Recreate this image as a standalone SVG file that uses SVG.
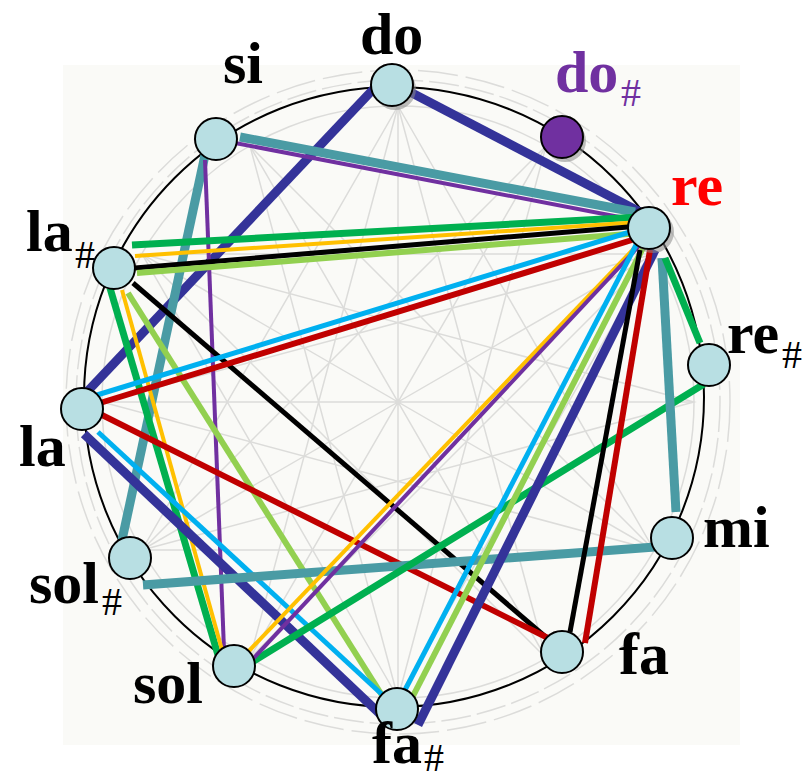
<svg xmlns="http://www.w3.org/2000/svg" width="804" height="781" viewBox="0 0 804 781">
<style>
.bgl{fill:none;stroke:#dcdcda;stroke-width:1.5}
.ring{fill:none;stroke:#000;stroke-width:2}
.c line{stroke-linecap:butt}
.db{stroke:#343399;stroke-width:9}
.te{stroke:#4a9ba4;stroke-width:9}
.gr{stroke:#00b050;stroke-width:7}
.pu{stroke:#7030a0;stroke-width:4}
.ye{stroke:#ffc000;stroke-width:4}
.bk{stroke:#000;stroke-width:5}
.lg{stroke:#92d050;stroke-width:6}
.lb{stroke:#00b0f0;stroke-width:5}
.rd{stroke:#c00000;stroke-width:6}
.sh{fill:#8a8a8a;opacity:.55}
.nd{fill:#b8dfe3;stroke:#000;stroke-width:2}
.lbl{font-family:"Liberation Serif","Times New Roman",serif;font-weight:bold;font-size:60px;fill:#000}
.sub{font-size:40px;font-weight:normal}
</style>
<rect width="804" height="781" fill="#fff"/>
<g id="background">
<rect x="63" y="65" width="677" height="680" fill="#fafaf7"/>
<circle class="bgl" cx="398" cy="402" r="322" stroke-dasharray="30 6"/>
<circle class="bgl" cx="398" cy="402" r="332" stroke-dasharray="40 8"/>
<circle class="bgl" cx="398" cy="402" r="296"/>
<path class="bgl" d="M398,106 L546,658 L142,254 L694,402 L142,550 L546,146 L398,698 L250,146 L654,550 L102,402 L654,254 L250,658 Z"/>
<path class="bgl" d="M398,106 L654,550 L142,550 Z M398,698 L142,254 L654,254 Z"/>
<path class="bgl" d="M398,106 L398,698 M102,402 L694,402 M250,146 L546,658 M546,146 L250,658 M142,254 L654,550 M142,550 L654,254"/>
</g>
<circle class="ring" cx="394" cy="397" r="310"/>
<g id="connectors" class="c">
<line class="db" x1="412" y1="93" x2="640" y2="212"/>
<line class="db" x1="382" y1="80" x2="84" y2="395"/>
<line class="te" x1="240" y1="137" x2="635" y2="212"/>
<line class="pu" x1="235" y1="143" x2="635" y2="220"/>
<line class="te" x1="205" y1="155" x2="122" y2="540"/>
<line class="pu" x1="205" y1="160" x2="224" y2="650"/>
<line class="gr" x1="132" y1="245" x2="640" y2="217"/>
<line class="ye" x1="135" y1="256" x2="640" y2="222"/>
<line class="bk" x1="135" y1="268" x2="640" y2="226"/>
<line class="lg" x1="137" y1="273" x2="640" y2="233"/>
<line class="gr" x1="110" y1="288" x2="218" y2="655"/>
<line class="ye" x1="122" y1="290" x2="222" y2="650"/>
<line class="lg" x1="128" y1="293" x2="385" y2="700"/>
<line class="bk" x1="133" y1="283" x2="555" y2="645"/>
<line class="lb" x1="97" y1="395" x2="630" y2="232"/>
<line class="rd" x1="100" y1="403" x2="632" y2="240"/>
<line class="rd" x1="100" y1="414" x2="552" y2="640"/>
<line class="lb" x1="98" y1="432" x2="388" y2="700"/>
<line class="db" x1="84" y1="434" x2="380" y2="714"/>
<line class="te" x1="143" y1="585" x2="655" y2="547"/>
<line class="gr" x1="252" y1="662" x2="704" y2="384"/>
<line class="ye" x1="245" y1="655" x2="644" y2="238"/>
<line class="pu" x1="250" y1="662" x2="640" y2="245"/>
<line class="lb" x1="405" y1="690" x2="636" y2="245"/>
<line class="lg" x1="412" y1="698" x2="643" y2="248"/>
<line class="db" x1="418" y1="725" x2="655" y2="250"/>
<line class="bk" x1="570" y1="632" x2="640" y2="250"/>
<line class="rd" x1="585" y1="643" x2="650" y2="250"/>
<line class="te" x1="662" y1="258" x2="676" y2="512"/>
<line class="gr" x1="665" y1="258" x2="700" y2="343"/>
</g>
<g id="node-do"><circle class="sh" cx="395" cy="89" r="21"/><circle class="nd" cx="392" cy="85" r="21"/><text class="lbl" x="360" y="54">do</text></g>
<g id="node-do-sharp"><circle class="sh" cx="565" cy="141" r="21"/><circle cx="562" cy="137" r="21" fill="#7030a0" stroke="#000" stroke-width="2"/><text class="lbl" x="555" y="92" style="fill:#7030a0">do<tspan class="sub" x="621" y="106">#</tspan></text></g>
<g id="node-re"><circle class="sh" cx="653" cy="232" r="21"/><circle class="nd" cx="649" cy="228" r="21"/><text class="lbl" x="671" y="205" style="fill:#ff0000">re</text></g>
<g id="node-re-sharp"><circle class="nd" cx="709" cy="365" r="21"/><text class="lbl" x="727" y="353">re<tspan class="sub" x="782" y="368">#</tspan></text></g>
<g id="node-mi"><circle class="nd" cx="672" cy="538" r="21"/><text class="lbl" x="703" y="547">mi</text></g>
<g id="node-fa"><circle class="nd" cx="562" cy="652" r="21"/><text class="lbl" x="619" y="674">fa</text></g>
<g id="node-fa-sharp"><circle class="nd" cx="397" cy="709" r="21"/><text class="lbl" x="372" y="763">fa<tspan class="sub" x="424" y="771">#</tspan></text></g>
<g id="node-sol"><circle class="nd" cx="234" cy="666" r="21"/><text class="lbl" x="133" y="703">sol</text></g>
<g id="node-sol-sharp"><circle class="nd" cx="130" cy="558" r="21"/><text class="lbl" x="29" y="603">sol<tspan class="sub" x="102" y="615">#</tspan></text></g>
<g id="node-la"><circle class="nd" cx="82" cy="409" r="21"/><text class="lbl" x="19" y="466">la</text></g>
<g id="node-la-sharp"><circle class="nd" cx="114" cy="268" r="21"/><text class="lbl" x="26" y="251">la<tspan class="sub" x="75" y="268">#</tspan></text></g>
<g id="node-si"><circle class="nd" cx="216" cy="139" r="21"/><text class="lbl" x="223" y="83">si</text></g>
</svg>
